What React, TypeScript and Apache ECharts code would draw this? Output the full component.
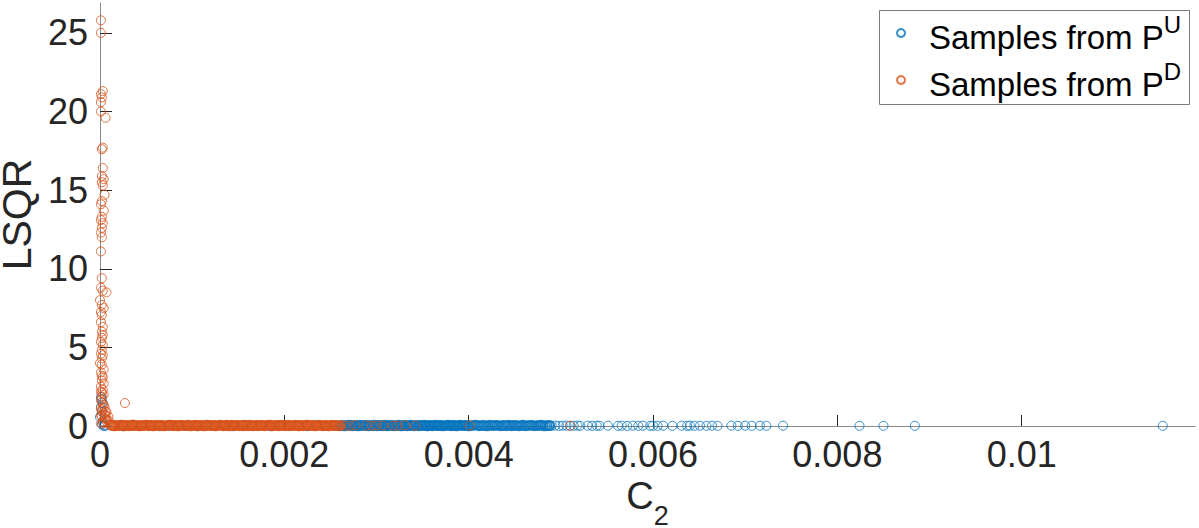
import React, { useEffect, useRef } from "react";
import * as echarts from "echarts";

const xTicks = [0, 0.002, 0.004, 0.006, 0.008, 0.01];
const yTicks = [0, 5, 10, 15, 20, 25];
const xMax = 0.01188;
const yMax = 26.9;
const legendNames = ["U", "D"];

// Samples from P^U (blue)
const blueNearZero: [number, number][] = [
  [0.00001, 1.85], [0.00002, 1.7], [0.00003, 1.46], [0.00001, 1.2], [0.00002, 0.9],
  [0.0, 0.57], [0.00003, 0.3], [0.00002, 0.1], [0.00004, 0.02],
];
const blueHiddenBand: [number, number][] = [
  [0.00005, 0.02], [0.00015, 0.03], [0.00025, 0.01], [0.00035, 0.04], [0.00045, 0.02],
  [0.00055, 0.03], [0.00065, 0.01], [0.00075, 0.04], [0.00085, 0.02], [0.00095, 0.03],
  [0.00105, 0.01], [0.00115, 0.04], [0.00125, 0.02], [0.00135, 0.03], [0.00145, 0.01],
  [0.00155, 0.04], [0.00165, 0.02], [0.00175, 0.03], [0.00185, 0.01], [0.00195, 0.04],
  [0.00205, 0.02], [0.00215, 0.03], [0.00225, 0.01], [0.00235, 0.04], [0.00245, 0.02],
  [0.00255, 0.03],
];
const blueBand: [number, number][] = [
  [0.0026, 0.02], [0.00263, 0.04], [0.00266, 0.01], [0.00269, 0.03], [0.00272, 0.05],
  [0.00275, 0.02], [0.00278, 0.04], [0.00281, 0.01], [0.00284, 0.03], [0.00287, 0.05],
  [0.0029, 0.02], [0.00293, 0.04], [0.00296, 0.01], [0.00299, 0.03], [0.00302, 0.05],
  [0.00305, 0.02], [0.00308, 0.04], [0.00311, 0.01], [0.00314, 0.03], [0.00317, 0.05],
  [0.0032, 0.02], [0.00323, 0.04], [0.00326, 0.01], [0.00329, 0.03], [0.00332, 0.05],
  [0.00335, 0.02], [0.00338, 0.04], [0.00341, 0.01], [0.00344, 0.03], [0.00347, 0.05],
  [0.0035, 0.02], [0.00353, 0.04], [0.00356, 0.01], [0.00359, 0.03], [0.00362, 0.05],
  [0.00365, 0.02], [0.00368, 0.04], [0.00371, 0.01], [0.00374, 0.03], [0.00377, 0.05],
  [0.0038, 0.02], [0.00383, 0.04], [0.00386, 0.01], [0.00389, 0.03], [0.00392, 0.05],
  [0.00395, 0.02], [0.00398, 0.04], [0.00401, 0.01], [0.00405, 0.03], [0.00409, 0.05],
  [0.00413, 0.02], [0.00417, 0.04], [0.00421, 0.01], [0.00425, 0.03], [0.00429, 0.05],
  [0.00433, 0.02], [0.00437, 0.04], [0.00441, 0.01], [0.00445, 0.03], [0.00449, 0.05],
  [0.00453, 0.02], [0.00457, 0.04], [0.00461, 0.01], [0.00465, 0.03], [0.00469, 0.05],
  [0.00473, 0.02], [0.00477, 0.04], [0.00481, 0.01], [0.00485, 0.03], [0.00488, 0.02],
];
const blueBandMid: [number, number][] = [
  [0.002615, 0.05], [0.002645, 0.0], [0.002675, 0.03], [0.002705, 0.06], [0.002735, 0.01],
  [0.002765, 0.04], [0.002795, 0.0], [0.002825, 0.06], [0.002855, 0.02], [0.002885, 0.05],
  [0.002915, 0.0], [0.002945, 0.03], [0.002975, 0.06], [0.003005, 0.01], [0.003035, 0.04],
  [0.003065, 0.0], [0.003095, 0.06], [0.003125, 0.02], [0.003155, 0.05], [0.003185, 0.0],
  [0.003215, 0.03], [0.003245, 0.06], [0.003275, 0.01], [0.003305, 0.04], [0.003335, 0.0],
  [0.003365, 0.06], [0.003395, 0.02], [0.003425, 0.05], [0.003455, 0.0], [0.003485, 0.03],
  [0.003515, 0.06], [0.003545, 0.01], [0.003575, 0.04], [0.003605, 0.0], [0.003635, 0.06],
  [0.003665, 0.02], [0.003695, 0.05], [0.003725, 0.0], [0.003755, 0.03], [0.003785, 0.06],
  [0.003815, 0.01], [0.003845, 0.04], [0.003875, 0.0], [0.003905, 0.06], [0.003935, 0.02],
  [0.003965, 0.05], [0.003995, 0.0], [0.00403, 0.03], [0.00407, 0.06], [0.00411, 0.01],
  [0.00415, 0.04], [0.00419, 0.0], [0.00423, 0.06], [0.00427, 0.02], [0.00431, 0.05],
  [0.00435, 0.0], [0.00439, 0.03], [0.00443, 0.06], [0.00447, 0.01], [0.00451, 0.04],
  [0.00455, 0.0], [0.00459, 0.06], [0.00463, 0.02], [0.00467, 0.05], [0.00471, 0.0],
  [0.00475, 0.03], [0.00479, 0.06], [0.00483, 0.01], [0.00487, 0.04],
];
const blueSparse: [number, number][] = [
  [0.0049, 0.02], [0.00494, 0.03], [0.00498, 0.01], [0.00502, 0.02], [0.00506, 0.03],
  [0.0051, 0.01], [0.00514, 0.02], [0.00518, 0.03], [0.00521, 0.01], [0.00529, 0.02],
  [0.00534, 0.01], [0.00539, 0.02], [0.00542, 0.01], [0.00551, 0.02], [0.00562, 0.01],
  [0.00566, 0.02], [0.00572, 0.01], [0.00578, 0.02], [0.00584, 0.01], [0.00589, 0.02],
  [0.00597, 0.01], [0.006, 0.02], [0.00605, 0.01], [0.00611, 0.02], [0.00621, 0.01],
  [0.00631, 0.02], [0.00637, 0.01], [0.0064, 0.02], [0.00645, 0.01], [0.00651, 0.02],
  [0.00658, 0.01], [0.00664, 0.02], [0.0067, 0.01], [0.00685, 0.02], [0.00692, 0.01],
  [0.007, 0.02], [0.00707, 0.01], [0.00716, 0.02], [0.00723, 0.01], [0.00741, 0.02],
  [0.00824, 0.01], [0.0085, 0.01], [0.00884, 0.01], [0.01153, 0.01],
];

// Samples from P^D (orange)
const orangeVertical: [number, number][] = [
  [0.00001, 25.8], [0.00001, 25.0], [0.00003, 21.3], [0.00001, 21.1], [0.00002, 20.9],
  [0.00001, 20.6], [0.00001, 20.0], [0.00006, 19.6], [0.00003, 17.7], [0.00002, 17.6],
  [0.00003, 16.4], [0.00002, 15.9], [0.00004, 15.7], [0.00002, 15.5], [0.00003, 15.3],
  [0.00005, 14.7], [0.00002, 14.3], [0.00001, 14.1], [0.00004, 13.7], [0.00002, 13.3],
  [0.00001, 13.1], [0.00003, 12.9], [0.00002, 12.6], [0.00001, 12.3], [0.00002, 12.0],
  [0.00001, 11.1], [0.00002, 9.4], [0.00001, 8.8], [0.00003, 8.6], [0.00007, 8.5],
  [0.0, 8.0], [0.00002, 7.7], [0.00004, 7.5], [0.00001, 7.25], [0.00002, 7.05],
  [0.00001, 6.6], [0.00003, 6.3], [0.00002, 6.0], [0.00003, 5.8], [0.00002, 5.6],
  [0.00001, 5.35], [0.00003, 5.15], [0.00002, 4.85], [0.00001, 4.6], [0.0, 4.0],
  [0.00002, 3.9], [0.00001, 3.4], [0.00003, 3.1], [0.00002, 2.9], [0.00001, 2.5],
  [0.00003, 2.3], [0.00002, 2.1], [0.00002, 1.85], [0.00002, 1.5], [0.00003, 1.2],
  [0.00002, 1.0], [0.00004, 0.8], [0.00002, 0.6], [0.00005, 0.5], [0.00003, 0.25],
  [0.00005, 1.2], [0.00007, 0.9], [0.00009, 0.6], [0.0001, 0.3], [0.00011, 0.1],
  [0.00008, 0.4], [0.00006, 0.7], [0.00004, 0.2], [0.00012, 0.05], [0.00027, 1.46],
  [0.00003, 4.5], [0.00002, 4.3], [0.00004, 3.6], [0.00002, 3.2], [0.00004, 2.7],
  [0.00001, 2.2], [0.00004, 2.0], [0.00001, 1.65], [0.00004, 1.35], [0.00001, 1.1],
  [0.00006, 0.9], [0.00001, 0.7], [0.00006, 0.45], [0.00001, 0.15], [0.00007, 0.3],
];
const orangeBand: [number, number][] = [
  [0.00012, 0.03], [0.00015, 0.01], [0.00018, 0.05], [0.00021, 0.02], [0.00024, 0.06],
  [0.00027, 0.01], [0.0003, 0.04], [0.00033, 0.02], [0.00036, 0.07], [0.00039, 0.03],
  [0.00042, 0.01], [0.00045, 0.05], [0.00048, 0.02], [0.00051, 0.06], [0.00054, 0.03],
  [0.00057, 0.01], [0.0006, 0.04], [0.00063, 0.02], [0.00066, 0.05], [0.00069, 0.01],
  [0.00072, 0.03], [0.00075, 0.06], [0.00078, 0.02], [0.00081, 0.04], [0.00084, 0.01],
  [0.00087, 0.05], [0.0009, 0.03], [0.00093, 0.02], [0.00096, 0.06], [0.00099, 0.01],
  [0.00102, 0.04], [0.00105, 0.02], [0.00108, 0.05], [0.00111, 0.03], [0.00114, 0.01],
  [0.00117, 0.06], [0.0012, 0.02], [0.00123, 0.04], [0.00126, 0.01], [0.00129, 0.05],
  [0.00132, 0.03], [0.00135, 0.02], [0.00138, 0.06], [0.00141, 0.01], [0.00144, 0.04],
  [0.00147, 0.02], [0.0015, 0.05], [0.00153, 0.03], [0.00156, 0.01], [0.00159, 0.04],
  [0.00162, 0.06], [0.00165, 0.02], [0.00168, 0.03], [0.00171, 0.01], [0.00174, 0.05],
  [0.00177, 0.02], [0.0018, 0.04], [0.00183, 0.06], [0.00186, 0.01], [0.00189, 0.03],
  [0.00192, 0.05], [0.00195, 0.02], [0.00198, 0.04], [0.00201, 0.01], [0.00204, 0.06],
  [0.00207, 0.03], [0.0021, 0.02], [0.00213, 0.05], [0.00216, 0.01], [0.00219, 0.04],
  [0.00222, 0.03], [0.00225, 0.06], [0.00228, 0.02], [0.00231, 0.04], [0.00234, 0.01],
  [0.00237, 0.05], [0.0024, 0.03], [0.00243, 0.02], [0.00246, 0.04], [0.00249, 0.01],
  [0.00252, 0.05], [0.00255, 0.03], [0.00258, 0.02], [0.00261, 0.04],
];
const orangeBandMid: [number, number][] = [
  [0.000135, 0.05], [0.000165, 0.0], [0.000195, 0.03], [0.000225, 0.06], [0.000255, 0.01],
  [0.000285, 0.04], [0.000315, 0.0], [0.000345, 0.06], [0.000375, 0.02], [0.000405, 0.05],
  [0.000435, 0.0], [0.000465, 0.03], [0.000495, 0.06], [0.000525, 0.01], [0.000555, 0.04],
  [0.000585, 0.0], [0.000615, 0.06], [0.000645, 0.02], [0.000675, 0.05], [0.000705, 0.0],
  [0.000735, 0.03], [0.000765, 0.06], [0.000795, 0.01], [0.000825, 0.04], [0.000855, 0.0],
  [0.000885, 0.06], [0.000915, 0.02], [0.000945, 0.05], [0.000975, 0.0], [0.001005, 0.03],
  [0.001035, 0.06], [0.001065, 0.01], [0.001095, 0.04], [0.001125, 0.0], [0.001155, 0.06],
  [0.001185, 0.02], [0.001215, 0.05], [0.001245, 0.0], [0.001275, 0.03], [0.001305, 0.06],
  [0.001335, 0.01], [0.001365, 0.04], [0.001395, 0.0], [0.001425, 0.06], [0.001455, 0.02],
  [0.001485, 0.05], [0.001515, 0.0], [0.001545, 0.03], [0.001575, 0.06], [0.001605, 0.01],
  [0.001635, 0.04], [0.001665, 0.0], [0.001695, 0.06], [0.001725, 0.02], [0.001755, 0.05],
  [0.001785, 0.0], [0.001815, 0.03], [0.001845, 0.06], [0.001875, 0.01], [0.001905, 0.04],
  [0.001935, 0.0], [0.001965, 0.06], [0.001995, 0.02], [0.002025, 0.05], [0.002055, 0.0],
  [0.002085, 0.03], [0.002115, 0.06], [0.002145, 0.01], [0.002175, 0.04], [0.002205, 0.0],
  [0.002235, 0.06], [0.002265, 0.02], [0.002295, 0.05], [0.002325, 0.0], [0.002355, 0.03],
  [0.002385, 0.06], [0.002415, 0.01], [0.002445, 0.04], [0.002475, 0.0], [0.002505, 0.06],
  [0.002535, 0.02], [0.002565, 0.05], [0.002595, 0.0],
];
const orangeSparse: [number, number][] = [
  [0.00266, 0.03], [0.00271, 0.02], [0.00277, 0.04], [0.00289, 0.03], [0.00295, 0.02],
  [0.003, 0.04], [0.00307, 0.03], [0.00318, 0.02], [0.00323, 0.03], [0.00331, 0.04],
  [0.00342, 0.02], [0.00401, 0.03], [0.0051, 0.02],
];

const FONT = "'Liberation Sans', Arial, Helvetica, sans-serif";
const BLUE = "#0072BD";
const ORANGE = "#D95319";
const TXT = "#262626";

// dense bands drawn with a slightly heavier ring so the overlap reads as solid
const heavy = (pts: [number, number][]) =>
  pts.map((p) => ({ value: p, itemStyle: { borderWidth: 1.5 } }));

export default function App() {
  const ref = useRef<HTMLDivElement>(null);
  useEffect(() => {
    document.body.style.margin = "0";
    if (!ref.current) return;
    const chart = echarts.init(ref.current, null, { renderer: "svg" });
    const ringStyle = (c: string) => ({ color: "rgba(0,0,0,0)", borderColor: c, borderWidth: 1 });
    const legendText = {
      color: "#000",
      fontFamily: FONT,
      rich: {
        a: { fontSize: 33, lineHeight: 41, verticalAlign: "bottom", color: "#000", fontFamily: FONT },
        b: { fontSize: 24, lineHeight: 24, verticalAlign: "top", color: "#000", fontFamily: FONT },
      },
    };
    const legendBase = {
      left: 896,
      orient: "vertical",
      padding: 0,
      itemGap: 0,
      itemWidth: 46,
      itemHeight: 8,
      symbolKeepAspect: true,
      formatter: (n: string) => `{a|Samples from P}{b|${n}}`,
      textStyle: legendText,
    };
    chart.setOption({
      animation: false,
      backgroundColor: "#ffffff",
      textStyle: { fontFamily: FONT },
      grid: { left: 100, top: 3, width: 1095, height: 423, containLabel: false, outerBoundsMode: "none" },
      graphic: [
        {
          type: "rect",
          z: 0,
          shape: { x: 879.5, y: 10.5, width: 310, height: 94 },
          style: { fill: "#ffffff", stroke: "#7a7a7a", lineWidth: 1 },
        },
      ],
      legend: [
        { ...legendBase, top: 12.5, data: [legendNames[0]] },
        { ...legendBase, top: 59.5, data: [legendNames[1]] },
      ],
      xAxis: {
        type: "value",
        min: 0,
        max: xMax,
        interval: 0.002,
        name: "{c|C}{s|2}",
        nameLocation: "middle",
        nameGap: 43,
        nameTextStyle: {
          rich: {
            c: { fontSize: 38, lineHeight: 38, verticalAlign: "top", color: TXT, fontFamily: FONT },
            s: { fontSize: 27, lineHeight: 53, verticalAlign: "bottom", color: TXT, fontFamily: FONT },
          },
        },
        axisLine: { show: true, onZero: true, lineStyle: { color: "#8a8a8a", width: 1 } },
        axisTick: { show: true, inside: true, length: 11, customValues: xTicks, lineStyle: { color: TXT, width: 1 } },
        axisLabel: {
          customValues: xTicks,
          fontSize: 36,
          color: TXT,
          fontFamily: FONT,
          margin: 10,
          formatter: (v: number) => `${v}`,
        },
        splitLine: { show: false },
      },
      yAxis: {
        type: "value",
        min: 0,
        max: yMax,
        interval: 5,
        name: "LSQR",
        nameLocation: "middle",
        nameRotate: 90,
        nameGap: 53,
        nameTextStyle: { fontSize: 41, lineHeight: 41, color: TXT, fontFamily: FONT },
        axisLine: { show: true, onZero: true, lineStyle: { color: "#8a8a8a", width: 1 } },
        axisTick: { show: true, inside: true, length: 12, customValues: yTicks, lineStyle: { color: TXT, width: 1 } },
        axisLabel: {
          customValues: yTicks,
          fontSize: 36,
          color: TXT,
          fontFamily: FONT,
          margin: 12,
          formatter: (v: number) => `${v}`,
        },
        splitLine: { show: false },
      },
      series: [
        {
          name: "U",
          type: "scatter",
          symbol: "circle",
          symbolSize: 9,
          clip: false,
          itemStyle: ringStyle(BLUE),
          emphasis: { disabled: true },
          data: [
            ...blueNearZero,
            ...heavy(blueHiddenBand),
            ...heavy(blueBand),
            ...heavy(blueBandMid),
            ...blueSparse,
          ],
        },
        {
          name: "D",
          type: "scatter",
          symbol: "circle",
          symbolSize: 9,
          clip: false,
          itemStyle: ringStyle(ORANGE),
          emphasis: { disabled: true },
          data: [...orangeVertical, ...heavy(orangeBand), ...heavy(orangeBandMid), ...orangeSparse],
        },
      ],
    });
    return () => chart.dispose();
  }, []);
  return <div ref={ref} style={{ width: 1199, height: 528 }} />;
}
